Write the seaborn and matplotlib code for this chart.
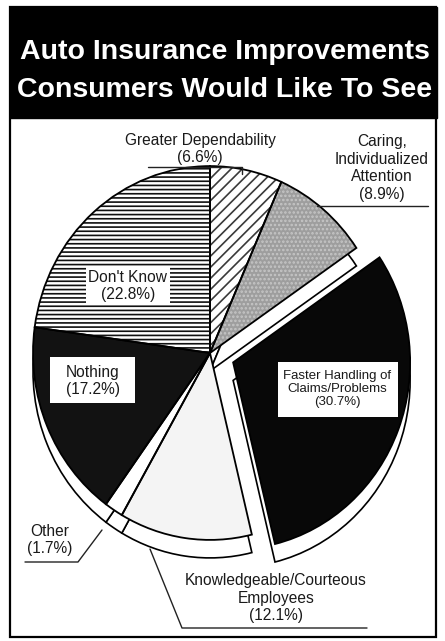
import matplotlib
matplotlib.use("Agg")
import matplotlib.pyplot as plt
import seaborn as sns
from matplotlib.patches import Rectangle

categories = ["Greater Dependability", "Caring, Individualized Attention",
              "Faster Handling of Claims/Problems", "Knowledgeable/Courteous Employees",
              "Other", "Nothing", "Don't Know"]
shares = [6.6, 8.9, 30.7, 12.1, 1.7, 17.2, 22.8]
title_lines = ["Auto Insurance Improvements", "Consumers Would Like To See"]

fills = ["white", "#9e9e9e", "#080808", "#f4f4f4", "white", "#121212", "white"]
hatches = ["///", "....", "", "", "", "", "----"]
hatch_colors = ["#3a3a3a", "#c6c6c6", "#080808", "#f4f4f4", "white", "#121212", "#111111"]
explode = [0, 0, 0.14, 0, 0, 0, 0]  # fraction of the radius

W, H, SY = 445, 641, 1.056  # pixel canvas, vertical stretch of the pie


def P(x, y):
    return x, (H - y) / SY


sns.set_theme(style="white")
plt.rcParams["font.family"] = ["Liberation Sans", "DejaVu Sans"]
plt.rcParams["hatch.linewidth"] = 1.2

fig = plt.figure(figsize=(W / 100, H / 100), dpi=100)
ax = fig.add_axes([0, 0, 1, 1])

center, radius = P(210, 353), 177
common = dict(startangle=90, counterclock=False, radius=radius,
              explode=[e * radius for e in explode])

# depth of the pie: a white copy pushed down
ax.pie(shares, center=(center[0], center[1] - 18 / SY), colors=["white"] * len(shares),
       wedgeprops=dict(edgecolor="black", linewidth=1.2), **common)
wedges, _ = ax.pie(shares, center=center, colors=fills,
                   wedgeprops=dict(linewidth=0), **common)
hatch_wedges, _ = ax.pie(shares, center=center, colors=["none"] * len(shares),
                         wedgeprops=dict(linewidth=0), **common)
for w, h, c in zip(hatch_wedges, hatches, hatch_colors):
    w.set_hatch(h)
    w.set_edgecolor(c)
ax.pie(shares, center=center, colors=["none"] * len(shares),
       wedgeprops=dict(edgecolor="black", linewidth=1.3), **common)

ax.set_aspect("auto")
ax.set_xlim(0, W)
ax.set_ylim(0, H / SY)
ax.axis("off")

# header and frame
x0, y0 = P(10, 118)
ax.add_patch(Rectangle((x0, y0), 427, 111 / SY, facecolor="black", edgecolor="black", zorder=5))
x0, y0 = P(10, 637)
ax.add_patch(Rectangle((x0, y0), 426, 630 / SY, facecolor="none", edgecolor="black",
                       linewidth=1.6, zorder=6))
for line, base in zip(title_lines, [59, 97]):
    ax.text(*P(225, base), line, color="white", fontsize=20.5, fontweight="bold",
            ha="center", va="baseline", zorder=7)

# white boxes behind the inner labels
for (bx, by, bw, bh) in [(86, 303, 84, 36), (50, 403, 85, 46), (278, 417, 120, 55)]:
    ax.add_patch(Rectangle(P(bx, by), bw, bh / SY, facecolor="white", edgecolor="none", zorder=4))

label_style = dict(ha="center", va="center", fontsize=11.2, color="#1a1a1a", zorder=8,
                   linespacing=1.2)
ax.text(*P(200, 149), "Greater Dependability\n(6.6%)", **label_style)
ax.text(*P(382, 168), "Caring,\nIndividualized\nAttention\n(8.9%)", **label_style)
ax.text(*P(128, 286), "Don't Know\n(22.8%)", **label_style)
ax.text(*P(93, 381), "Nothing\n(17.2%)", **label_style)
ax.text(*P(50, 540), "Other\n(1.7%)", **label_style)
ax.text(*P(276, 598), "Knowledgeable/Courteous\nEmployees\n(12.1%)", **label_style)
ax.text(*P(337, 389), "Faster Handling of\nClaims/Problems\n(30.7%)",
        **{**label_style, "fontsize": 9.5, "linespacing": 1.15})

# leader lines
leaders = [
    [(148, 167), (242, 167), (242, 174)],
    [(317, 206), (428, 206)],
    [(25, 562), (78, 562), (102, 530)],
    [(367, 628), (182, 628), (150, 549)],
]
for pts in leaders:
    xs, ys = zip(*[P(*p) for p in pts])
    ax.plot(xs, ys, color="#222222", linewidth=1.0, zorder=8)

fig.savefig("out.png", dpi=100)
